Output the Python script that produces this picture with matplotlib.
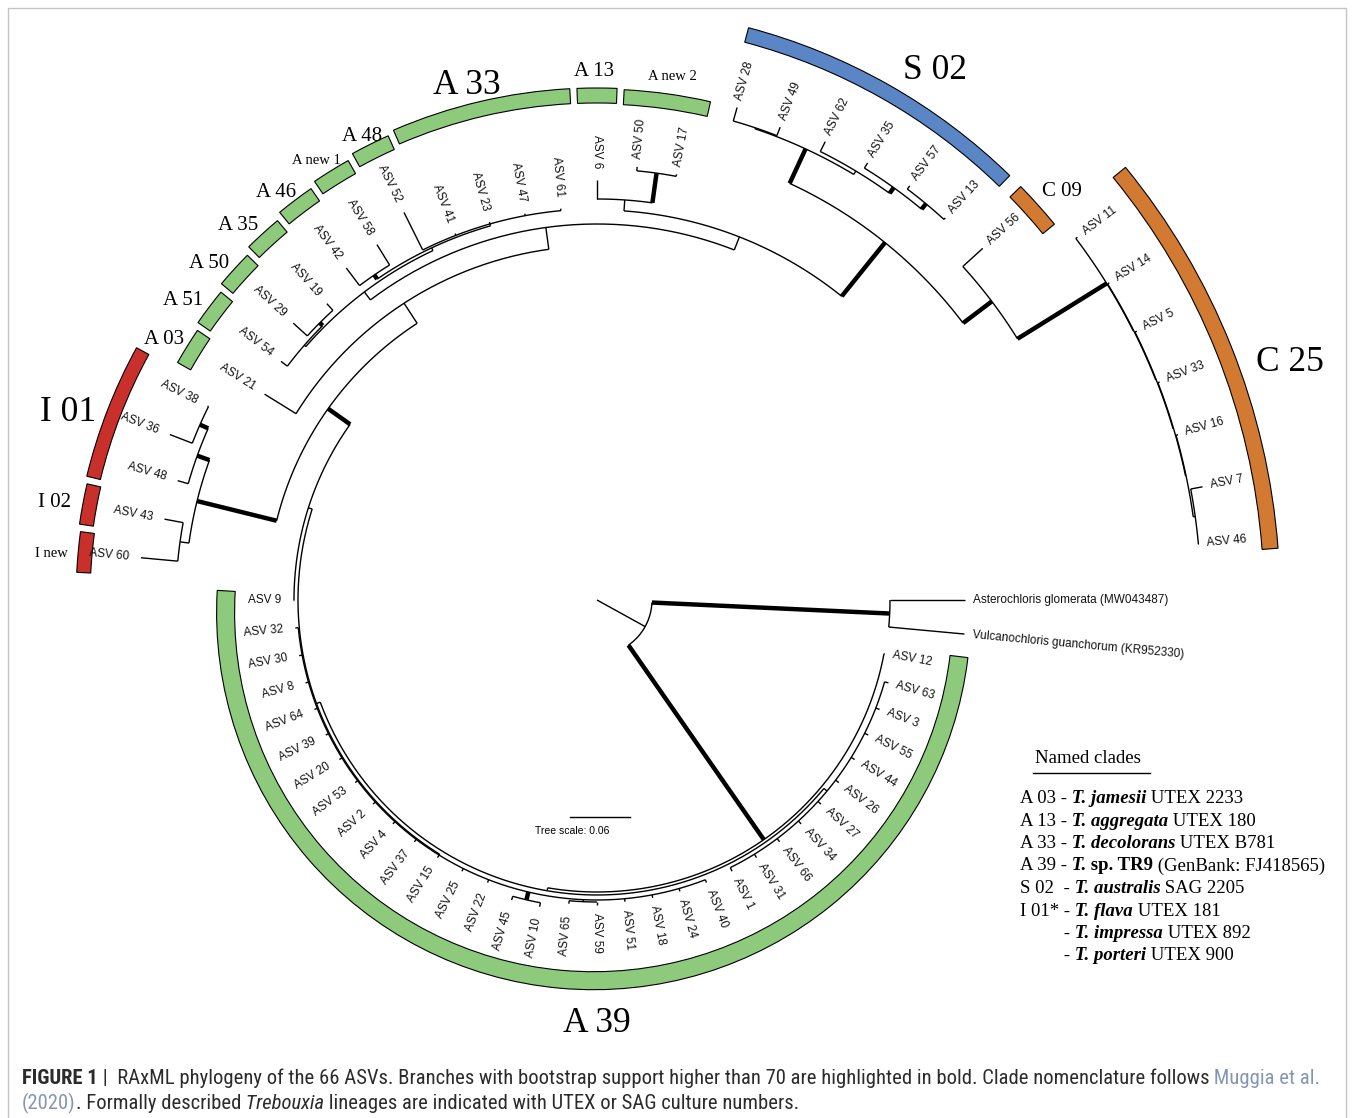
import re
import numpy as np
import matplotlib
matplotlib.use("Agg")
import matplotlib.pyplot as plt
from matplotlib.patches import Wedge, Rectangle
from matplotlib import font_manager as fm

# ------------------------------------------------------------------ data
# RAxML topology with branch lengths (substitutions/site).
# An internal label "*" marks a branch with bootstrap support above 70.
OUTGROUP = ("('Asterochloris glomerata (MW043487)':0.075,"
            "'Vulcanochloris guanchorum (KR952330)':0.076)*:0.238")

CLADE_A39_RIGHT = ("('ASV 63':0.004,'ASV 3':0.004,'ASV 55':0.004,'ASV 44':0.004,"
                   "'ASV 26':0.004,'ASV 27':0.004,'ASV 34':0.004,'ASV 66':0.004,"
                   "'ASV 31':0.004,'ASV 1':0.004):0.004")
CLADE_A39_LEFT = ("('ASV 40':0.003,'ASV 24':0.003,'ASV 18':0.003,'ASV 51':0.003,"
                  "('ASV 59':0.003,'ASV 65':0.003):0.002,"
                  "('ASV 10':0.004,'ASV 45':0.004)*:0.008,"
                  "'ASV 22':0.003,'ASV 25':0.003,'ASV 15':0.003,'ASV 37':0.003,"
                  "'ASV 4':0.003,'ASV 2':0.003,'ASV 53':0.003,'ASV 20':0.003,"
                  "'ASV 39':0.003,'ASV 64':0.003,'ASV 8':0.003,'ASV 30':0.003,"
                  "'ASV 32':0.003):0.001")

CLADE_I = ("(('ASV 60':0.037,'ASV 43':0.019):0.009,"
           "('ASV 48':0.011,('ASV 36':0.024,'ASV 38':0.001)*:0.009)*:0.013)*:0.082")

CLADE_S02 = ("(('ASV 28':0.014,'ASV 49':0.009):0.001,"
             "('ASV 62':0.011,('ASV 35':0.006,('ASV 57':0.004,'ASV 13':0.002)*:0.007)*:0.007)"
             ":0.004)*:0.038")

CLADE_C = ("('ASV 56':0.027,"
           "('ASV 11':0.002,('ASV 14':0.002,('ASV 5':0.002,('ASV 33':0.002,"
           "('ASV 16':0.002,('ASV 7':0.012,'ASV 46':0.0005):0.002)"
           ":0.0005):0.0005):0.0005):0.0005)*:0.105)*:0.036")

CLADE_A = ("('ASV 21':0.037,"
           "((('ASV 54':0.008,('ASV 29':0.019,'ASV 19':0.009)*:0.004):0.002,"
           "(('ASV 42':0.022,'ASV 58':0.024)*:0.005,"
           "('ASV 52':0.042,'ASV 41':0.002,'ASV 23':0.002,'ASV 47':0.002,'ASV 61':0.002)"
           ":0.002):0.003):0.010,"
           "(('ASV 6':0.019,('ASV 50':0.004,'ASV 17':0.002)*:0.030):0.011,"
           "(" + CLADE_S02 + "," + CLADE_C + ")*:0.069):0.014):0.022):0.024")

CLADE_X = "(" + CLADE_I + "," + CLADE_A + ")*:0.027"
INGROUP = ("('ASV 12':0.0005,(" + CLADE_A39_RIGHT + ",(" + CLADE_A39_LEFT +
           ",('ASV 9':0.001," + CLADE_X + "):0.004):0.004):0.003)*:0.237")
TREE = "(" + OUTGROUP + "," + INGROUP + "):0.055;"

# Named clades drawn as coloured strips: label, first leaf, last leaf, lineage
CLADE_NAMES = ["A 39", "I 01", "I 02", "I new", "A 03", "A 51", "A 50", "A 35",
               "A 46", "A new 1", "A 48", "A 33", "A 13", "A new 2", "S 02",
               "C 09", "C 25"]
CLADE_FIRST = ["ASV 12", "ASV 48", "ASV 43", "ASV 60", "ASV 21", "ASV 54", "ASV 29",
               "ASV 19", "ASV 42", "ASV 58", "ASV 52", "ASV 41", "ASV 6", "ASV 50",
               "ASV 28", "ASV 56", "ASV 11"]
CLADE_LAST = ["ASV 9", "ASV 38", "ASV 43", "ASV 60", "ASV 21", "ASV 54", "ASV 29",
              "ASV 19", "ASV 42", "ASV 58", "ASV 52", "ASV 61", "ASV 6", "ASV 17",
              "ASV 13", "ASV 56", "ASV 46"]
CLADE_LINEAGE = ["A", "I", "I", "I", "A", "A", "A", "A", "A", "A", "A", "A", "A", "A",
                 "S", "C", "C"]

LEGEND_TITLE = "Named clades"
LEGEND_ROWS = [
    [("A 03", "r"), (" -", "r"), (" T. jamesii", "bi"), (" UTEX 2233", "r")],
    [("A 13", "r"), (" -", "r"), (" T. aggregata", "bi"), (" UTEX 180", "r")],
    [("A 33", "r"), (" -", "r"), (" T. decolorans", "bi"), (" UTEX B781", "r")],
    [("A 39", "r"), (" -", "r"), (" T.", "bi"), (" sp. TR9", "b"),
     (" (GenBank: FJ418565)", "r")],
    [("S 02", "r"), ("  -", "r"), (" T. australis", "bi"), (" SAG 2205", "r")],
    [("I 01*", "r"), (" -", "r"), (" T. flava", "bi"), (" UTEX 181", "r")],
    [(None, "indent"), (" -", "r"), (" T. impressa", "bi"), (" UTEX 892", "r")],
    [(None, "indent"), (" -", "r"), (" T. porteri", "bi"), (" UTEX 900", "r")],
]

CAPTION = [
    [("FIGURE 1", "bold"), (" |  RAxML phylogeny of the 66 ASVs. Branches with bootstrap "
      "support higher than 70 are highlighted in bold. Clade nomenclature follows", "r"),
     (" Muggia et al.", "link")],
    [("(2020)", "link"), (". Formally described", "r"), (" Trebouxia", "it"),
     (" lineages are indicated with UTEX or SAG culture numbers.", "r")],
]
SCALE_VALUE = 0.06

# ------------------------------------------------------------------ layout / style
W, H = 1354, 1118
CX, CY = 597.0, 600.0
PX_PER_UNIT = 1000.0
THIN, THICK = 1.0, 3.2
GAP_RIGHT, GAP_LEFT = 8.0, 12.0
SANS = "Liberation Sans"
SERIF = "Liberation Serif"

LINEAGE_COLOR = {"A": "#8dca7c", "I": "#c9302c", "S": "#5b86c6", "C": "#d27a31"}
# strip geometry: inner radius, outer radius, start trim, end trim (deg), centre shift
STRIP_GEOM = {
    "A 39": (359, 377, -1.1, -0.75, (-3.4, 12.7)),
    "I 01": (511, 525, 0.4, 0.4, (0, 0)), "I 02": (509, 523, 0.4, 0.4, (0, 0)),
    "I new": (507, 521, 0.4, 0.4, (0, 0)),
    "A 03": (467, 482, 0.4, 0.4, (0, 0)), "A 51": (471, 486, 0.4, 0.4, (0, 0)),
    "A 50": (476, 491, 0.4, 0.4, (0, 0)), "A 35": (481, 496, 0.4, 0.4, (0, 0)),
    "A 46": (486, 501, 0.4, 0.4, (0, 0)), "A new 1": (490, 505, 0.4, 0.4, (0, 0)),
    "A 48": (494, 509, 0.4, 0.4, (0, 0)), "A 33": (497, 512, 0.4, 0.4, (0, 0)),
    "A 13": (497, 512, 0.4, 0.4, (0, 0)), "A new 2": (496, 511, 0.4, 0.4, (0, 0)),
    "S 02": (577, 592, 1.6, 0.8, (0, 0)), "C 09": (577, 592, 0.7, -0.3, (0, 0)),
    "C 25": (667, 683, 0.4, 1.7, (0, 0)),
}
CLADE_LABEL_POS = {  # centre x, baseline y, font size
    "A 39": (597, 1032, 25.5), "I 01": (68, 421, 25.5), "S 02": (935, 79, 25.5),
    "A 33": (467, 94, 25.5), "C 25": (1290, 371, 25.5),
    "I 02": (55, 507, 15), "A 03": (164, 344, 15), "A 51": (183, 305, 15),
    "A 50": (209, 268, 15), "A 35": (238, 230, 15), "A 46": (276, 197, 15),
    "A 48": (362, 141, 15), "A 13": (594, 76, 15), "C 09": (1062, 196, 15),
    "I new": (51, 557, 10.5), "A new 1": (316, 164, 10.5), "A new 2": (672, 80, 10.5),
}


# ------------------------------------------------------------------ newick
def parse_newick(s):
    s = s.strip().rstrip(";")
    pos = 0

    def node():
        nonlocal pos
        n = {"children": [], "name": "", "len": 0.0}
        if s[pos] == "(":
            pos += 1
            while True:
                n["children"].append(node())
                if s[pos] == ",":
                    pos += 1
                    continue
                if s[pos] == ")":
                    pos += 1
                    break
        if pos < len(s) and s[pos] == "'":
            end = s.index("'", pos + 1)
            n["name"] = s[pos + 1:end]
            pos = end + 1
        else:
            m = re.match(r"[^:,();]*", s[pos:])
            n["name"] = m.group(0)
            pos += len(m.group(0))
        if pos < len(s) and s[pos] == ":":
            m = re.match(r":([0-9.eE+-]+)", s[pos:])
            n["len"] = float(m.group(1))
            pos += len(m.group(0))
        return n

    return node()


root = parse_newick(TREE)

leaves = []


def collect(n):
    if not n["children"]:
        leaves.append(n)
    for c in n["children"]:
        collect(c)


collect(root)
STEP = 360.0 / len(leaves)
for i, lf in enumerate(leaves):
    lf["ang"] = i * STEP
leaf_by_name = {lf["name"]: lf for lf in leaves}


def set_angles(n):
    if n["children"]:
        for c in n["children"]:
            set_angles(c)
        n["ang"] = 0.5 * (n["children"][0]["ang"] + n["children"][-1]["ang"])


def set_radii(n, r0):
    n["r"] = r0 + n["len"] * PX_PER_UNIT
    for c in n["children"]:
        set_radii(c, n["r"])


set_angles(root)
set_radii(root, 0.0)


def pol(r, a):
    t = np.deg2rad(a)
    return CX + r * np.cos(t), CY + r * np.sin(t)


# ------------------------------------------------------------------ figure
fig = plt.figure(figsize=(W / 100, H / 100), dpi=100)
ax = fig.add_axes([0, 0, 1, 1])
ax.set_xlim(0, W)
ax.set_ylim(H, 0)
ax.axis("off")

# frame
ax.add_patch(Rectangle((8, 8), 1338, 1130, fill=False, ec="#c4c4c4", lw=1.0))


def radial(a, r0, r1, lw):
    x0, y0 = pol(r0, a)
    x1, y1 = pol(r1, a)
    ax.plot([x0, x1], [y0, y1], color="black", lw=lw, solid_capstyle="butt", zorder=3)


def arc(r, a0, a1):
    n = max(2, int(abs(a1 - a0) / 0.4) + 2)
    t = np.linspace(a0, a1, n)
    x, y = pol(r, t)
    ax.plot(x, y, color="black", lw=THIN, solid_capstyle="butt", zorder=3)


def draw(n, parent_r):
    lw = THICK if n["name"] == "*" else THIN
    radial(n["ang"], parent_r, n["r"], lw)
    if n["children"]:
        arc(n["r"], n["children"][0]["ang"], n["children"][-1]["ang"])
        for c in n["children"]:
            draw(c, n["r"])


draw(root, 0.0)

# leaf labels
for lf in leaves:
    a = lf["ang"]
    right_side = (a <= 90.0 + 1e-6) or (a > 270.0 + 1e-6)
    if right_side:
        x, y = pol(lf["r"] + GAP_RIGHT, a)
        rot, ha = -a, "left"
    else:
        x, y = pol(lf["r"] + GAP_LEFT, a)
        rot, ha = 180.0 - a, "right"
    ax.text(x, y, lf["name"], rotation=rot, rotation_mode="anchor", ha=ha, va="center",
            fontsize=8.5, family=SANS, color="#111111", zorder=4)

# clade strips
for name, first, last, lin in zip(CLADE_NAMES, CLADE_FIRST, CLADE_LAST, CLADE_LINEAGE):
    r_in, r_out, trim0, trim1, (dx, dy) = STRIP_GEOM[name]
    a0 = leaf_by_name[first]["ang"] - STEP / 2 + trim0
    a1 = leaf_by_name[last]["ang"] + STEP / 2 - trim1
    ax.add_patch(Wedge((CX + dx, CY + dy), r_out, a0, a1, width=r_out - r_in,
                       facecolor=LINEAGE_COLOR[lin], edgecolor="black", lw=0.8, zorder=2))
    x, y, fs = CLADE_LABEL_POS[name]
    ax.text(x, y, name, ha="center", va="baseline", fontsize=fs, family=SERIF,
            color="black")

# tree scale
bar_len = SCALE_VALUE * PX_PER_UNIT
ax.plot([570, 570 + bar_len], [817, 817], color="black", lw=THIN)
ax.text(535, 831, f"Tree scale: {SCALE_VALUE:g}", fontsize=7.5, family=SANS,
        ha="left", va="center")

renderer = fig.canvas.get_renderer()


def seq_text(x, y, segments, styles, **common):
    for s, st in segments:
        t = ax.text(x, y, s, **common, **styles[st])
        x += t.get_window_extent(renderer).width
    return x


# legend
LEG_STYLE = {"r": {}, "b": {"weight": "bold"},
             "bi": {"weight": "bold", "style": "italic"}}
leg_x, leg_y0, leg_dy, leg_fs = 1020, 803, 22.5, 13.5
ax.text(1035, 763, LEGEND_TITLE, fontsize=leg_fs, family=SERIF, ha="left",
        va="baseline")
ax.plot([1033, 1150], [773, 773], color="black", lw=1.0)
indent_x = leg_x
for k, row in enumerate(LEGEND_ROWS):
    y = leg_y0 + k * leg_dy
    if row[0][0] is not None:
        t = ax.text(leg_x, y, row[0][0], fontsize=leg_fs, family=SERIF, ha="left",
                    va="baseline")
        indent_x = leg_x + t.get_window_extent(renderer).width
    seq_text(indent_x, y, row[1:], LEG_STYLE, fontsize=leg_fs, family=SERIF, ha="left",
             va="baseline", color="black")

# caption, in a condensed sans face when one is installed
cap_family, cap_stretch = SANS, "normal"
preferred = ["Liberation Sans Narrow", "Roboto Condensed", "Noto Sans", "Open Sans",
             "Roboto", "DejaVu Sans"]
condensed = {}
for f in fm.fontManager.ttflist:
    if str(f.stretch) in ("condensed", "semi-condensed") and f.style == "normal":
        condensed.setdefault(f.name, f.stretch)
for nm in preferred:
    if nm in condensed:
        cap_family, cap_stretch = nm, condensed[nm]
        break

CAP_STYLE = {"r": {"color": "#2b2b2b"}, "bold": {"color": "#2b2b2b", "weight": "bold"},
             "it": {"color": "#2b2b2b", "style": "italic"}, "link": {"color": "#8596b3"}}
probe = [ax.text(0, 0, s, fontsize=12, family=cap_family, stretch=cap_stretch,
                 **CAP_STYLE[st]) for s, st in CAPTION[0]]
w12 = sum(p.get_window_extent(renderer).width for p in probe)
for p in probe:
    p.remove()
cap_fs = 12 * (1320 - 22) / w12
seq_text(22, 1084, CAPTION[0], CAP_STYLE, fontsize=cap_fs, family=cap_family,
         stretch=cap_stretch, ha="left", va="baseline")
seq_text(22, 1109, CAPTION[1], CAP_STYLE, fontsize=cap_fs, family=cap_family,
         stretch=cap_stretch, ha="left", va="baseline")

fig.savefig("out.png", dpi=100)
